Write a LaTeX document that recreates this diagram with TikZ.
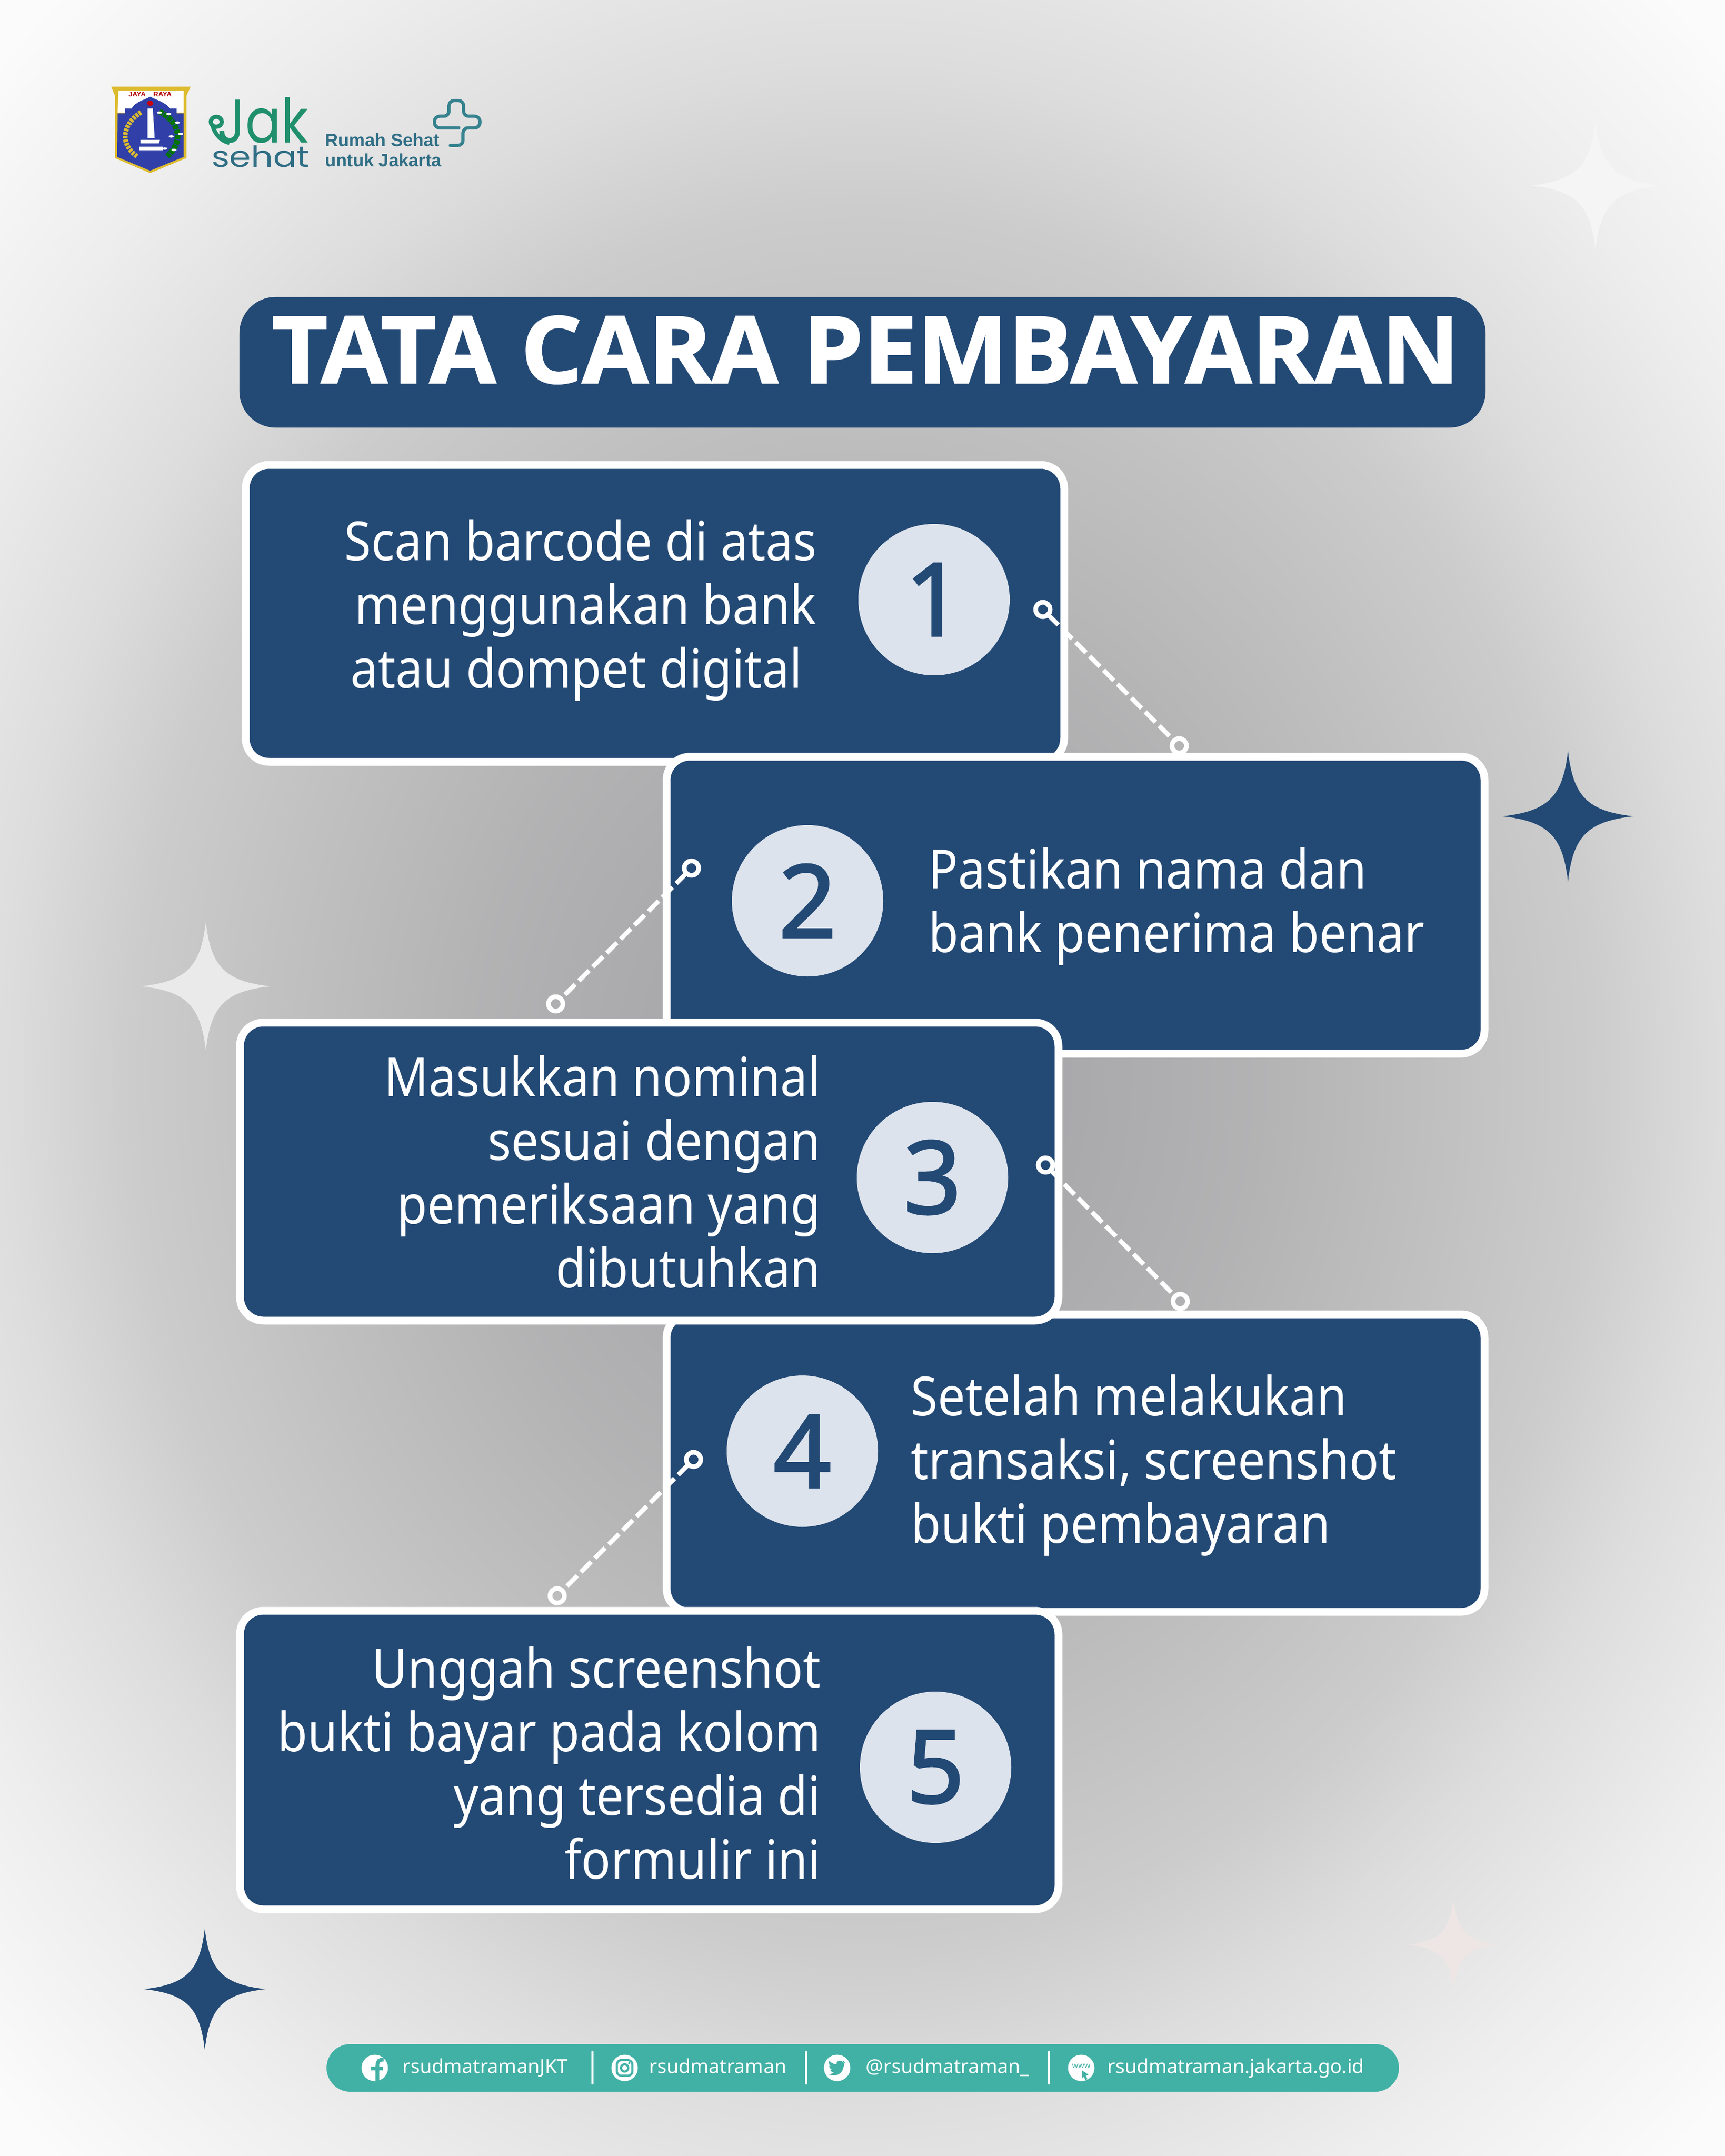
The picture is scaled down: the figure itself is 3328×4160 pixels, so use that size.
\documentclass[tikz,border=0pt]{standalone}
\usepackage{fontspec}
\setmainfont{Noto Sans}
\newfontfamily\bodyf{Noto Sans}[FakeStretch=0.905]
\newfontfamily\titlef{Open Sans Bold}[FakeStretch=1.035,FakeBold=1.5]
\newfontfamily\numf{Noto Sans}[FakeBold=2]
\newfontfamily\logof{Poppins}
\newfontfamily\logoh{Liberation Sans}
\definecolor{navy}{HTML}{234975}
\definecolor{disc}{HTML}{DDE3EC}
\definecolor{teal}{HTML}{42B1A5}
\definecolor{jakgreen}{HTML}{1F8F6C}
\definecolor{jakblue}{HTML}{2F6E85}
\definecolor{gold}{HTML}{DDBB2E}
\definecolor{shieldblue}{HTML}{3040A8}
\definecolor{starpale}{HTML}{F5F5F5}
\definecolor{starside}{HTML}{EAEAEA}
\definecolor{starpink}{HTML}{EDE6E5}
\pgfdeclareradialshading{bgrad}{\pgfpoint{0bp}{0bp}}{%
rgb(0bp)=(.645,.64,.652);
rgb(3.75bp)=(.66,.655,.668);
rgb(8bp)=(.70,.70,.705);
rgb(12bp)=(.755,.755,.755);
rgb(15bp)=(.80,.80,.80);
rgb(17.5bp)=(.865,.865,.865);
rgb(21bp)=(.93,.93,.93);
rgb(25bp)=(.985,.985,.985);
rgb(50bp)=(.985,.985,.985)}
\tikzset{
  x=0.24pt,y=-0.24pt,
  stepbox/.style={draw=white,fill=navy,line width=3.6pt,rounded corners=10.8pt,inner sep=0},
  disc/.style={circle,fill=disc,text=navy,minimum size=70.08pt,inner sep=0,font=\numf\fontsize{46.8}{50}\selectfont},
  lbl/.style={text=white,inner sep=0,font=\bodyf\fontsize{25}{29.52}\selectfont},
  ring/.style={circle,draw=white,line width=2.16pt,minimum size=6.7pt,inner sep=0,outer sep=0},
  link/.style={draw=white,line width=2.1pt,dash pattern=on 6.7pt off 2.4pt},
  foot/.style={text=white,inner sep=0,anchor=base west,font=\fontsize{9}{10}\selectfont},
  ico/.style={circle,fill=white,minimum size=12.24pt,inner sep=0},
  rulew/.style={draw=white,line width=1.1pt}
}
\newcommand\sparkle[4]{%
  \fill[#4] (#1,#2-#3) .. controls (#1+.08*#3,#2-.30*#3) and (#1+.30*#3,#2-.08*#3) ..
  (#1+#3,#2) .. controls (#1+.30*#3,#2+.08*#3) and (#1+.08*#3,#2+.30*#3) ..
  (#1,#2+#3) .. controls (#1-.08*#3,#2+.30*#3) and (#1-.30*#3,#2+.08*#3) ..
  (#1-#3,#2) .. controls (#1-.30*#3,#2-.08*#3) and (#1-.08*#3,#2-.30*#3) .. cycle;}
\begin{document}
\begin{tikzpicture}
\useasboundingbox (0,0) rectangle (3328,4160);
\begin{scope}
\clip (0,0) rectangle (3328,4160);
\shade[shading=bgrad] (-690,-713) rectangle (4018,4873);
\end{scope}
% stars
\sparkle{3078}{358}{124}{starpale}
\sparkle{3025}{1575}{126}{navy}
\sparkle{397}{1903}{124}{starside}
\sparkle{395}{3838}{117}{navy}
\sparkle{2804}{3752}{88}{starpink}
% logos, in a local grid
\begin{scope}[shift={(180,130)},x=0.12245pt,y=-0.08pt]
  \fill[gold] (68,112) -- (368,112) -- (352,165) -- (352,525) -- (215,612) -- (82,525) -- (82,165) -- cycle;
  \fill[white] (95,135) -- (342,135) -- (342,262) -- (92,262) -- cycle;
  \fill[shieldblue] (92,266) -- (120,266) -- (120,238) -- (145,238) .. controls (160,200) and (190,190) .. (215,170) .. controls (240,190) and (270,200) .. (290,238) -- (315,238) -- (315,266) -- (342,266) -- (342,518) -- (215,598) -- (90,518) -- cycle;
  \node[text=red!70!black,inner sep=0,font=\logoh\bfseries\fontsize{3.2}{4}\selectfont] (jaya) at (215,155) {JAYA\hspace{1.1em}RAYA};
  \draw[gold,line width=2.2pt,dash pattern=on 1.2pt off .5pt] (180,260) .. controls (120,320) and (90,430) .. (165,515);
  \draw[green!45!black,line width=2.6pt,dash pattern=on 2pt off .4pt] (250,255) .. controls (330,320) and (340,430) .. (280,515);
  \foreach \a/\b in {250/262,285/270,318/320,330/385,295/400,305/478,270/470}{\fill[white] (\a,\b) ellipse (10 and 7);}
  \fill[white] (205,238) -- (225,238) -- (232,410) -- (205,410) -- cycle;
  \fill[red!80!black] (215,208) ellipse (12 and 14);
  \fill[white] (178,420) -- (252,420) -- (248,440) -- (178,440) -- cycle;
  \fill[white] (175,458) -- (262,458) -- (262,480) -- (175,480) -- cycle;
  % Jak
  \node[anchor=base west,inner sep=0,text=jakgreen,xscale=.86,font=\logof\fontsize{28.5}{30}\selectfont] (jak) at (468,437) {Jak};
  \draw[jakgreen,line width=1.9pt] (465,315) ellipse (21 and 29);
  \draw[jakgreen,line width=1.9pt] (452,345) .. controls (465,400) and (490,430) .. (515,437);
  \node[anchor=base west,inner sep=0,text=jakblue,xscale=1.19,font=\logof\fontsize{13.5}{15}\selectfont] (sehat) at (445,578) {sehat};
  \node[anchor=base west,inner sep=0,text=jakblue,font=\logoh\bfseries\fontsize{8.3}{10}\selectfont] (rs) at (875,458) {Rumah Sehat};
  \node[anchor=base west,inner sep=0,text=jakblue,font=\logoh\bfseries\fontsize{8.3}{10}\selectfont] (uj) at (875,575) {untuk Jakarta};
  \draw[jakblue!70!teal,line width=1.5pt,rounded corners=2.4pt,line cap=round] (1382,350) -- (1290,350) -- (1290,283) -- (1345,283) -- (1345,192) -- (1400,192) -- (1400,283) -- (1462,283) -- (1462,350) -- (1398,350) -- (1398,452) -- (1350,452);
\end{scope}
% title
\node[fill=navy,rounded corners=16.8pt,minimum width=577pt,minimum height=60.5pt,inner sep=0] (titlebox) at (1664,699) {};
\node[anchor=base west,inner sep=0,text=white,font=\titlef\fontsize{43}{50}\selectfont] (title) at (524,739) {TATA CARA PEMBAYARAN};
% boxes
\node[stepbox,minimum width=378.96pt,minimum height=137.52pt] (b1) at (1263.5,1183.5) {};
\node[stepbox,minimum width=378.72pt,minimum height=137.52pt] (b2) at (2075,1746.5) {};
\node[stepbox,minimum width=378.72pt,minimum height=137.76pt] (b4) at (2075,2823) {};
\node[stepbox,minimum width=378.96pt,minimum height=138pt] (b3) at (1252.5,2260.5) {};
\node[stepbox,minimum width=378.96pt,minimum height=138.24pt] (b5) at (1252.5,3396) {};
% discs
\node[disc] (n1) at (1802,1157) {1};
\node[disc] (n2) at (1558,1738) {2};
\node[disc] (n3) at (1799,2272) {3};
\node[disc] (n4) at (1548,2800) {4};
\node[disc] (n5) at (1805,3410) {5};
% labels
\node[lbl,align=right,anchor=base east] (t1) at (1576,1327) {Scan barcode di atas\\menggunakan bank\\atau dompet digital\hspace*{6.5pt}};
\node[lbl,align=left,anchor=base west] (t2) at (1791,1837) {Pastikan nama dan\\bank penerima benar};
\node[lbl,align=right,anchor=base east] (t3) at (1584,2484) {Masukkan nominal\\sesuai dengan\\pemeriksaan yang\\dibutuhkan};
\node[lbl,align=left,anchor=base west] (t4) at (1757,2977) {Setelah melakukan\\transaksi, screenshot\\bukti pembayaran};
\node[lbl,align=right,anchor=base east] (t5) at (1584,3625) {Unggah screenshot\\bukti bayar pada kolom\\yang tersedia di\\formulir ini};
% connectors
\node[ring] (c1a) at (2012,1176) {};
\node[ring] (c1b) at (2275,1439) {};
\node[ring] (c2a) at (1334,1675) {};
\node[ring] (c2b) at (1072,1937) {};
\node[ring] (c3a) at (2017,2248) {};
\node[ring] (c3b) at (2277,2511) {};
\node[ring] (c4a) at (1338,2816) {};
\node[ring] (c4b) at (1075,3079) {};
\draw[link] (c1a) -- (c1b);
\draw[link] (c2a) -- (c2b);
\draw[link] (c3a) -- (c3b);
\draw[link] (c4a) -- (c4b);
% footer
\node[fill=teal,rounded corners=11pt,minimum width=496.56pt,minimum height=22.08pt,inner sep=0] (pill) at (1664.5,3990) {};
\draw[rulew] (1143,3958) -- (1143,4022);
\draw[rulew] (1555,3958) -- (1555,4022);
\draw[rulew] (2024,3958) -- (2024,4022);
\node[ico] (i1) at (723,3990) {};
\node[ico] (i2) at (1205,3990) {};
\node[ico] (i3) at (1615,3990) {};
\node[ico] (i4) at (2086,3990) {};
\draw[teal,line width=1.7pt] (728,4015) -- (728,3986) .. controls (728,3976) and (732,3974) .. (740,3974) (716,3991) -- (739,3991);
\draw[teal,line width=1pt,rounded corners=2pt] (1190,3975) rectangle (1220,4005);
\draw[teal,line width=1pt] (1205,3990) circle (7);
\fill[teal] (1214,3981) circle (2);
\begin{scope}[shift={(1615,3990)}]
\fill[teal] (-16,12) .. controls (-8,16) and (2,15) .. (8,8) .. controls (12,3) and (13,-3) .. (13,-7) -- (16,-11) -- (12,-10) -- (14,-14) -- (10,-12) .. controls (6,-16) and (-2,-14) .. (-1,-7) .. controls (-7,-7) and (-12,-10) .. (-15,-14) .. controls (-17,-9) and (-15,-5) .. (-12,-3) -- (-15,-4) .. controls (-15,0) and (-12,3) .. (-9,4) -- (-13,4) .. controls (-12,7) and (-9,9) .. (-6,9) .. controls (-9,11) and (-12,12) .. (-16,12) -- cycle;
\end{scope}
\node[inner sep=0,text=teal,font=\fontsize{3.6}{4}\selectfont] (www) at (2086,3986) {www};
\fill[teal] (2088,3995) -- (2100,4003) -- (2095,4005) -- (2098,4012) -- (2094,4013) -- (2091,4007) -- (2088,4010) -- cycle;
\node[foot] (f1) at (776,4000) {rsudmatramanJKT};
\node[foot] (f2) at (1252,4000) {rsudmatraman};
\node[foot] (f3) at (1670,4000) {@rsudmatraman\_};
\node[foot] (f4) at (2136,4000) {rsudmatraman.jakarta.go.id};
\end{tikzpicture}
\end{document}
